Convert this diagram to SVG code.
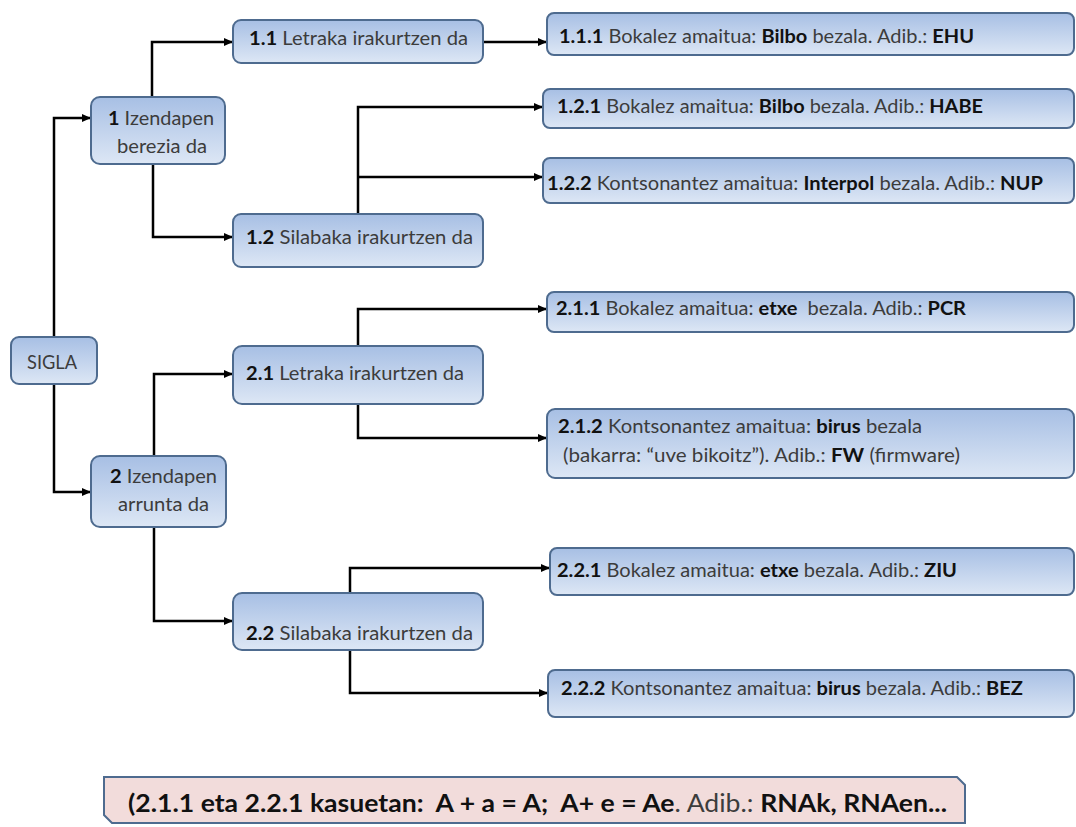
<svg xmlns="http://www.w3.org/2000/svg" width="1076" height="827" viewBox="0 0 1076 827">
  <style>
    .box { fill: url(#blue); stroke: #4e6b8f; stroke-width: 2; }
    .note { fill: #f2dcdb; stroke: #4e6b8f; stroke-width: 2; }
    .t { font-family: Lato, "Open Sans", "Liberation Sans", sans-serif; font-size: 18.5px; fill: #3c3c3c; }
    .big { font-size: 25px; }
    .b { font-weight: bold; fill: #111; }
    .conn { fill: none; stroke: #000; stroke-width: 2.5; stroke-linejoin: miter; }
  </style>
  <defs>
    <linearGradient id="blue" x1="0" y1="0" x2="0" y2="1">
      <stop offset="0" stop-color="#a7bfe4"/>
      <stop offset="1" stop-color="#dde7f5"/>
    </linearGradient>
    <marker id="arrow" markerUnits="userSpaceOnUse" markerWidth="9" markerHeight="8" refX="9" refY="4" orient="auto">
      <path d="M0,0 L9,4 L0,8 z" fill="#000"/>
    </marker>
  </defs>
  <rect width="1076" height="827" fill="#ffffff"/>

  <g id="connectors">
    <path class="conn" d="M54,337 V118 H91" marker-end="url(#arrow)"/>
    <path class="conn" d="M54,384 V492 H91" marker-end="url(#arrow)"/>
    <path class="conn" d="M152,97 V42 H233" marker-end="url(#arrow)"/>
    <path class="conn" d="M153,164 V237 H233" marker-end="url(#arrow)"/>
    <path class="conn" d="M483,42 H547" marker-end="url(#arrow)"/>
    <path class="conn" d="M358,214 V107 H543" marker-end="url(#arrow)"/>
    <path class="conn" d="M358,177 H543" marker-end="url(#arrow)"/>
    <path class="conn" d="M154,456 V374 H233" marker-end="url(#arrow)"/>
    <path class="conn" d="M154,527 V621 H233" marker-end="url(#arrow)"/>
    <path class="conn" d="M358,346 V309 H547" marker-end="url(#arrow)"/>
    <path class="conn" d="M358,404 V438 H547" marker-end="url(#arrow)"/>
    <path class="conn" d="M350,593 V568 H550" marker-end="url(#arrow)"/>
    <path class="conn" d="M350,650 V693 H548" marker-end="url(#arrow)"/>
  </g>

  <g id="sigla">
    <rect class="box" x="11" y="337" width="86" height="47" rx="8"/>
    <text class="t" x="27" y="369" textLength="50" lengthAdjust="spacingAndGlyphs">SIGLA</text>
  </g>

  <g id="n1">
    <rect class="box" x="91" y="97" width="134" height="67" rx="9"/>
    <text class="t" x="108" y="125" textLength="106" lengthAdjust="spacingAndGlyphs"><tspan class="b">1</tspan> Izendapen</text>
    <text class="t" x="117" y="153" textLength="90" lengthAdjust="spacingAndGlyphs">berezia da</text>
  </g>

  <g id="n1-1">
    <rect class="box" x="233" y="20" width="250" height="43" rx="8"/>
    <text class="t" x="249" y="45" textLength="219" lengthAdjust="spacingAndGlyphs"><tspan class="b">1.1</tspan> Letraka irakurtzen da</text>
  </g>

  <g id="n1-2">
    <rect class="box" x="233" y="214" width="250" height="53" rx="8"/>
    <text class="t" x="246" y="244" textLength="227" lengthAdjust="spacingAndGlyphs"><tspan class="b">1.2</tspan> Silabaka irakurtzen da</text>
  </g>

  <g id="n1-1-1">
    <rect class="box" x="547" y="13" width="527" height="42" rx="7"/>
    <text class="t" x="559" y="43" textLength="415" lengthAdjust="spacingAndGlyphs"><tspan class="b">1.1.1</tspan> Bokalez amaitua: <tspan class="b">Bilbo</tspan> bezala. Adib.: <tspan class="b">EHU</tspan></text>
  </g>

  <g id="n1-2-1">
    <rect class="box" x="543" y="89" width="531" height="39" rx="7"/>
    <text class="t" x="557" y="113" textLength="426" lengthAdjust="spacingAndGlyphs"><tspan class="b">1.2.1</tspan> Bokalez amaitua: <tspan class="b">Bilbo</tspan> bezala. Adib.: <tspan class="b">HABE</tspan></text>
  </g>

  <g id="n1-2-2">
    <rect class="box" x="543" y="158" width="531" height="45" rx="7"/>
    <text class="t" x="547" y="190" textLength="496" lengthAdjust="spacingAndGlyphs"><tspan class="b">1.2.2</tspan> Kontsonantez amaitua: <tspan class="b">Interpol</tspan> bezala. Adib.: <tspan class="b">NUP</tspan></text>
  </g>

  <g id="n2">
    <rect class="box" x="91" y="456" width="135" height="71" rx="9"/>
    <text class="t" x="110" y="483" textLength="107" lengthAdjust="spacingAndGlyphs"><tspan class="b">2</tspan> Izendapen</text>
    <text class="t" x="118" y="511" textLength="91" lengthAdjust="spacingAndGlyphs">arrunta da</text>
  </g>

  <g id="n2-1">
    <rect class="box" x="233" y="346" width="250" height="58" rx="9"/>
    <text class="t" x="246" y="380" textLength="218" lengthAdjust="spacingAndGlyphs"><tspan class="b">2.1</tspan> Letraka irakurtzen da</text>
  </g>

  <g id="n2-2">
    <rect class="box" x="233" y="593" width="250" height="57" rx="9"/>
    <text class="t" x="246" y="640" textLength="227" lengthAdjust="spacingAndGlyphs"><tspan class="b">2.2</tspan> Silabaka irakurtzen da</text>
  </g>

  <g id="n2-1-1">
    <rect class="box" x="547" y="292" width="527" height="40" rx="7"/>
    <text class="t" x="556" y="315" textLength="410" lengthAdjust="spacingAndGlyphs" xml:space="preserve"><tspan class="b">2.1.1</tspan> Bokalez amaitua: <tspan class="b">etxe</tspan>  bezala. Adib.: <tspan class="b">PCR</tspan></text>
  </g>

  <g id="n2-1-2">
    <rect class="box" x="547" y="409" width="527" height="69" rx="8"/>
    <text class="t" x="558" y="433" textLength="364" lengthAdjust="spacingAndGlyphs"><tspan class="b">2.1.2</tspan> Kontsonantez amaitua: <tspan class="b">birus</tspan> bezala</text>
    <text class="t" x="563" y="462" textLength="397" lengthAdjust="spacingAndGlyphs">(bakarra: “uve bikoitz”). Adib.: <tspan class="b">FW</tspan> (firmware)</text>
  </g>

  <g id="n2-2-1">
    <rect class="box" x="550" y="548" width="524" height="47" rx="7"/>
    <text class="t" x="557" y="577" textLength="400" lengthAdjust="spacingAndGlyphs"><tspan class="b">2.2.1</tspan> Bokalez amaitua: <tspan class="b">etxe</tspan> bezala. Adib.: <tspan class="b">ZIU</tspan></text>
  </g>

  <g id="n2-2-2">
    <rect class="box" x="548" y="670" width="526" height="47" rx="7"/>
    <text class="t" x="561" y="695" textLength="462" lengthAdjust="spacingAndGlyphs"><tspan class="b">2.2.2</tspan> Kontsonantez amaitua: <tspan class="b">birus</tspan> bezala. Adib.: <tspan class="b">BEZ</tspan></text>
  </g>

  <g id="note">
    <path class="note" d="M104,777 H957 L965,785 V823 H112 L104,815 Z"/>
    <text class="t big" x="128" y="812" textLength="819" lengthAdjust="spacingAndGlyphs" xml:space="preserve"><tspan class="b">(2.1.1 eta 2.2.1 kasuetan:  A + a = A;  A+ e = Ae</tspan>. Adib.: <tspan class="b">RNAk, RNAen...</tspan></text>
  </g>
</svg>
